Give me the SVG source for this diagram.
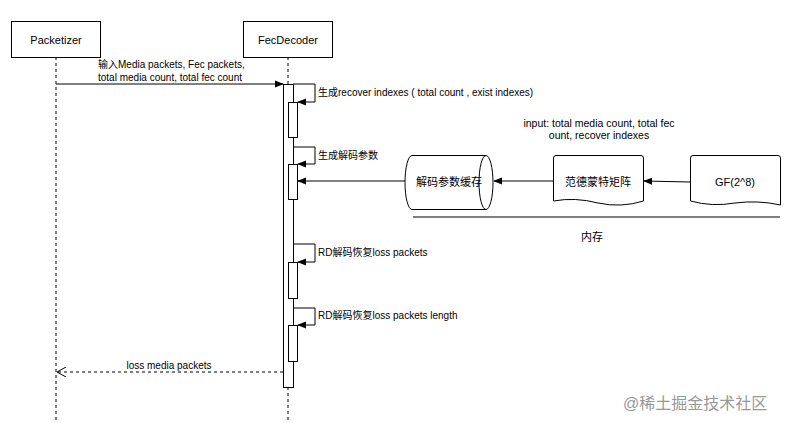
<svg xmlns="http://www.w3.org/2000/svg" width="799" height="438" viewBox="0 0 799 438">
<defs>
<marker id="fill" viewBox="0 0 10 10" refX="9" refY="5" markerWidth="9" markerHeight="9" markerUnits="userSpaceOnUse" orient="auto"><path d="M0,1 L10,5 L0,9 Z" fill="#000"/></marker>
<marker id="open" viewBox="0 0 10 10" refX="9" refY="5" markerWidth="10" markerHeight="10" markerUnits="userSpaceOnUse" orient="auto"><path d="M0,0 L9,5 L0,10" fill="none" stroke="#000" stroke-width="1"/></marker>
</defs>
<style>
text{font-family:"Liberation Sans","Noto Sans CJK SC",sans-serif;font-size:10px;fill:#000}
.box{fill:#fff;stroke:#000;stroke-width:1}
.life{stroke:#000;stroke-width:1;stroke-dasharray:3,3;fill:none}
.line{stroke:#000;stroke-width:1;fill:none}
.title{font-size:11px}
.node{font-size:11px}
</style>
<rect width="799" height="438" fill="#fff"/>
<g id="lifelines">
<line class="life" x1="56" y1="57" x2="56" y2="423"/>
<line class="life" x1="288" y1="57" x2="288" y2="423"/>
</g>
<g id="packetizer">
<rect class="box" x="11.5" y="21.5" width="89" height="36"/>
<text class="title" x="56" y="43.5" text-anchor="middle">Packetizer</text>
</g>
<g id="fecdecoder">
<rect class="box" x="243.5" y="21.5" width="89" height="36"/>
<text class="title" x="288" y="43.5" text-anchor="middle">FecDecoder</text>
</g>
<g id="activations">
<rect class="box" x="283.5" y="84.5" width="10" height="303"/>
<rect class="box" x="288.5" y="102.5" width="9" height="35"/>
<rect class="box" x="288.5" y="164.5" width="9" height="35"/>
<rect class="box" x="288.5" y="262.5" width="9" height="36"/>
<rect class="box" x="288.5" y="325.5" width="9" height="36"/>
</g>
<g id="cache">
<path class="box" d="M412,155.5 H486 A7,27 0 0 1 486,209.5 H412 A7,27 0 0 1 412,155.5 Z"/>
<path class="line" d="M486,155.5 A7,27 0 0 0 486,209.5"/>
<text class="node" x="449" y="186" text-anchor="middle">解码参数缓存</text>
</g>
<g id="vandermonde">
<path class="box" d="M553.5,158 Q553.5,155.5 556,155.5 H641 Q643.5,155.5 643.5,158 V201 Q621,208 598,203 Q575,197 553.5,201 Z"/>
<text class="node" x="598" y="186" text-anchor="middle">范德蒙特矩阵</text>
</g>
<g id="gf">
<path class="box" d="M690.5,158 Q690.5,155.5 693,155.5 H778 Q780.5,155.5 780.5,158 V205 Q758,200 735,203 Q712,207 690.5,201 Z"/>
<text class="node" x="735" y="186" text-anchor="middle">GF(2^8)</text>
</g>
<g id="memory">
<line x1="413" y1="217" x2="780" y2="217" stroke="#555" stroke-width="1.5"/>
<text class="node" x="592" y="241" text-anchor="middle">内存</text>
</g>
<g id="connectors">
<line class="line" x1="56" y1="84" x2="283" y2="84" marker-end="url(#fill)"/>
<path class="line" d="M293,84 H315 V102 H298" marker-end="url(#fill)"/>
<path class="line" d="M293,147 H315 V164 H298" marker-end="url(#fill)"/>
<path class="line" d="M293,244 H315 V262 H298" marker-end="url(#fill)"/>
<path class="line" d="M293,308 H315 V325 H298" marker-end="url(#fill)"/>
<line class="line" x1="405" y1="181" x2="298" y2="181" marker-end="url(#fill)"/>
<line class="line" x1="553" y1="181" x2="494" y2="181" marker-end="url(#fill)"/>
<line class="line" x1="690" y1="182" x2="644" y2="181" marker-end="url(#fill)"/>
<line class="life" x1="283" y1="372" x2="57" y2="372" marker-end="url(#open)"/>
</g>
<g id="labels">
<text x="98" y="68">输入Media packets, Fec packets,</text>
<text x="98" y="81">total media count, total fec count</text>
<text x="318" y="95.5">生成recover indexes ( total count , exist indexes)</text>
<text x="318" y="159">生成解码参数</text>
<text x="318" y="256">RD解码恢复loss packets</text>
<text x="318" y="319">RD解码恢复loss packets length</text>
<text x="599" y="127" text-anchor="middle" style="font-size:10.5px">input: total media count, total fec</text>
<text x="599" y="139" text-anchor="middle" style="font-size:10.5px">ount, recover indexes</text>
<text x="169" y="369" text-anchor="middle">loss media packets</text>
</g>
<text x="623" y="409" style="font-size:16px;fill:#999">@稀土掘金技术社区</text>
</svg>
